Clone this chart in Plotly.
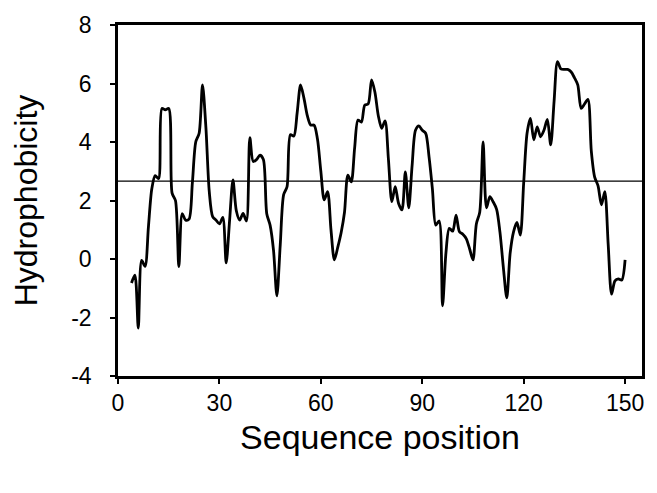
import plotly.graph_objects as go

# Sequence positions (window centres) and hydrophobicity values
positions = list(range(4, 151))
hydrophobicity = [
    -0.82, -0.55, -2.36, -0.05, -0.25, 1.1, 2.4, 2.85, 2.75, 5.15,      # 4-13
    5.1, 5.15, 2.25, 2.0, -0.26, 1.55, 1.33, 1.36, 2.6, 4.0,            # 14-23
    4.3, 5.95, 4.5, 2.3, 1.45, 1.33, 1.2, 1.42, -0.13, 1.3,             # 24-33
    2.7, 1.65, 1.33, 1.56, 1.3, 4.15, 3.33, 3.4, 3.55, 3.4,             # 34-43
    1.55, 1.15, 0.3, -1.26, 0.5, 2.2, 2.47, 4.25, 4.2, 5.0,             # 44-53
    5.95, 5.5, 4.9, 4.58, 4.58, 4.1, 3.0, 2.02, 2.3, 1.0,               # 54-63
    -0.03, 0.4, 0.9, 1.6, 2.87, 2.64, 3.8, 4.75, 4.68, 5.26,            # 64-73
    5.3, 6.12, 5.7, 4.9, 4.47, 4.72, 3.4, 1.96, 2.47, 1.9,              # 74-83
    1.68, 2.98, 1.75, 3.2, 4.4, 4.55, 4.4, 4.3, 3.5, 2.4,               # 84-93
    1.16, 1.3, -1.6, 0.2, 1.05, 0.95, 1.5, 0.93, 0.85, 0.7,             # 94-103
    0.35, -0.03, 1.2, 1.6, 4.0, 1.75, 2.13, 1.95, 1.7, 0.9,             # 104-113
    -0.3, -1.33, 0.2, 0.93, 1.25, 0.82, 2.6, 4.3, 4.81, 4.07,           # 114-123
    4.52, 4.18, 4.4, 4.77, 3.9, 5.4, 6.75, 6.5, 6.48, 6.48,             # 124-133
    6.4, 6.2, 5.95, 5.15, 5.3, 5.46, 3.7, 2.8, 2.5, 1.85,               # 134-143
    2.3, 0.5, -1.2, -0.75, -0.68, -0.72, -0.03,                         # 144-150
]
threshold = 2.66

x_ticks = [0, 30, 60, 90, 120, 150]
y_ticks = [-4, -2, 0, 2, 4, 6, 8]
x_range = [0, 155]
y_range = [-4, 8]

FONT = "Liberation Sans, Arial, sans-serif"
TICK_SIZE = 23
X_TITLE_SIZE = 34
Y_TITLE_SIZE = 32

fig = go.Figure()
fig.add_trace(go.Scatter(
    x=positions, y=hydrophobicity, mode="lines",
    line=dict(color="black", width=2.8, shape="spline", smoothing=0.8),
    showlegend=False, hoverinfo="x+y",
))
fig.add_hline(y=threshold, line=dict(color="black", width=1.3))

fig.update_layout(
    width=649, height=485,
    margin=dict(l=110, r=15, t=17, b=117),
    paper_bgcolor="white", plot_bgcolor="white",
    font=dict(family=FONT, size=TICK_SIZE, color="black"),
    showlegend=False,
)
fig.update_xaxes(
    range=x_range, tickvals=x_ticks, ticktext=[str(v) for v in x_ticks],
    showgrid=False, zeroline=False, automargin=False,
    showline=True, linecolor="black", linewidth=2.5, mirror=True,
    ticks="outside", ticklen=5, tickwidth=2, tickcolor="black",
    tickfont=dict(size=TICK_SIZE, family=FONT), ticklabelstandoff=0,
    title=dict(text="Sequence position", font=dict(size=X_TITLE_SIZE, family=FONT), standoff=10),
)
fig.update_yaxes(
    range=y_range, tickvals=y_ticks, ticktext=[str(v) for v in y_ticks],
    showgrid=False, zeroline=False, automargin=False,
    showline=True, linecolor="black", linewidth=2.5, mirror=True,
    ticks="outside", ticklen=5, tickwidth=2, tickcolor="black",
    tickfont=dict(size=TICK_SIZE, family=FONT), ticklabelstandoff=14,
    title=dict(text="Hydrophobicity", font=dict(size=Y_TITLE_SIZE, family=FONT), standoff=29),
)

fig.write_html("out.html")
